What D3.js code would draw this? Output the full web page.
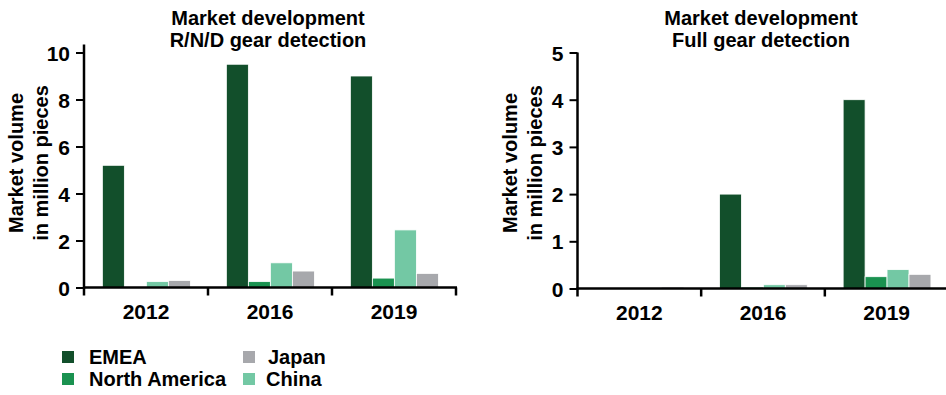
<!DOCTYPE html>
<html>
<head>
<meta charset="utf-8">
<script src="https://cdn.jsdelivr.net/npm/d3@7"></script>
<style>
  html, body { margin: 0; padding: 0; background: #fff; }
  svg { display: block; }
  text { font-family: "Liberation Sans", Arial, Helvetica, sans-serif; font-weight: bold; fill: #000; }
</style>
</head>
<body>
<svg id="chart" width="946" height="395"></svg>
<script>
// ---- data ----
const categories = ["2012", "2016", "2019"];
const seriesNames = ["EMEA", "North America", "China", "Japan"];
const legendOrder = ["EMEA", "North America", "Japan", "China"];
const seriesColors = ["#124f2b", "#1a9250", "#73c8a4", "#a7a8ac"];

const rndEMEA  = [5.2, 9.5, 9.0];
const rndNA    = [0, 0.25, 0.4];
const rndChina = [0.25, 1.05, 2.45];
const rndJapan = [0.3, 0.7, 0.6];

const fullEMEA  = [0, 2.0, 4.0];
const fullNA    = [0, 0.02, 0.25];
const fullChina = [0, 0.08, 0.4];
const fullJapan = [0.02, 0.08, 0.3];

const rndTicks  = [0, 2, 4, 6, 8, 10];
const fullTicks = [0, 1, 2, 3, 4, 5];

const titleLine1 = "Market development";
const rndTitle2  = "R/N/D gear detection";
const fullTitle2 = "Full gear detection";
const yLabel1 = "Market volume";
const yLabel2 = "in million pieces";

// ---- drawing ----
const svg = d3.select("#chart");
const color = d3.scaleOrdinal().domain(seriesNames).range(seriesColors);

function drawPanel(opts) {
  const { x0, x1, yTop, yBottom, yMax, ticks, values, title2, axisTopExtra } = opts;
  const g = svg.append("g");

  const x = d3.scaleBand().domain(categories).range([x0, x1]).paddingInner(0).paddingOuter(0);
  const bw = x.bandwidth();
  const xs = d3.scaleBand().domain(seriesNames).range([bw * 0.148, bw * 0.148 + bw * 0.71]).padding(0);
  const y = d3.scaleLinear().domain([0, yMax]).range([yBottom, yTop]);

  const rows = [];
  categories.forEach((c, i) => {
    seriesNames.forEach((s, j) => rows.push({ cat: c, series: s, value: values[j][i] }));
  });

  // bars
  g.append("g").selectAll("rect").data(rows).join("rect")
    .attr("x", d => x(d.cat) + xs(d.series))
    .attr("width", xs.bandwidth())
    .attr("y", d => y(d.value))
    .attr("height", d => y(0) - y(d.value))
    .attr("fill", d => color(d.series))
    .attr("stroke", d => d.value > 0.05 ? "#ffffff" : "none")
    .attr("stroke-width", 0.8);

  // y axis
  const yAxis = g.append("g")
    .attr("transform", `translate(${x0},0)`)
    .call(d3.axisLeft(y).tickValues(ticks).tickSize(8).tickPadding(6).tickFormat(d3.format("d")));
  yAxis.select(".domain").remove();
  yAxis.selectAll(".tick line").attr("stroke", "#000").attr("stroke-width", 2);
  yAxis.selectAll(".tick text").style("font-size", "21px").attr("dy", "0.36em");
  g.append("line")
    .attr("x1", x0).attr("x2", x0)
    .attr("y1", yTop - axisTopExtra).attr("y2", yBottom + 1)
    .attr("stroke", "#000").attr("stroke-width", 2.5);

  // x axis
  const xAxis = g.append("g")
    .attr("transform", `translate(0,${yBottom})`)
    .call(d3.axisBottom(x).tickSize(0).tickPadding(17));
  xAxis.select(".domain").remove();
  xAxis.selectAll(".tick text").style("font-size", "21px").attr("dy", "0.71em");
  g.append("line")
    .attr("x1", x0 - 1).attr("x2", x1 + 1)
    .attr("y1", yBottom).attr("y2", yBottom)
    .attr("stroke", "#000").attr("stroke-width", 2.5);
  const boundaries = categories.map(c => x(c)).concat([x1]);
  g.append("g").selectAll("line").data(boundaries).join("line")
    .attr("x1", d => d).attr("x2", d => d)
    .attr("y1", yBottom).attr("y2", yBottom + 8)
    .attr("stroke", "#000").attr("stroke-width", 2.5);

  // title
  const cx = (x0 + x1) / 2 - 2;
  g.append("text").attr("x", cx).attr("y", 25).attr("text-anchor", "middle")
    .style("font-size", "20px").text(titleLine1);
  g.append("text").attr("x", cx).attr("y", 46.5).attr("text-anchor", "middle")
    .style("font-size", "20px").text(title2);

  // y label
  const cy = 163;
  g.append("text")
    .attr("transform", `translate(${x0 - 61},${cy}) rotate(-90)`)
    .attr("text-anchor", "middle").style("font-size", "20px").text(yLabel1);
  g.append("text")
    .attr("transform", `translate(${x0 - 36},${cy}) rotate(-90)`)
    .attr("text-anchor", "middle").style("font-size", "20px").text(yLabel2);
}

drawPanel({
  x0: 84, x1: 456, yTop: 52.5, yBottom: 287.5, yMax: 10, ticks: rndTicks,
  values: [rndEMEA, rndNA, rndChina, rndJapan], title2: rndTitle2, axisTopExtra: 8
});
drawPanel({
  x0: 577.5, x1: 948.5, yTop: 52.5, yBottom: 288.5, yMax: 5, ticks: fullTicks,
  values: [fullEMEA, fullNA, fullChina, fullJapan], title2: fullTitle2, axisTopExtra: 0
});

// legend
const legendPos = [
  { sx: 62, tx: 89, y: 351 },
  { sx: 62, tx: 89, y: 373 },
  { sx: 243, tx: 268, y: 351 },
  { sx: 243, tx: 266, y: 373 }
];
const lg = svg.append("g");
legendOrder.forEach((name, i) => {
  const p = legendPos[i];
  lg.append("rect").attr("x", p.sx).attr("y", p.y).attr("width", 12).attr("height", 12)
    .attr("fill", color(name));
  lg.append("text").attr("x", p.tx).attr("y", p.y + 12.5).style("font-size", "20px").text(name);
});
</script>
</body>
</html>
